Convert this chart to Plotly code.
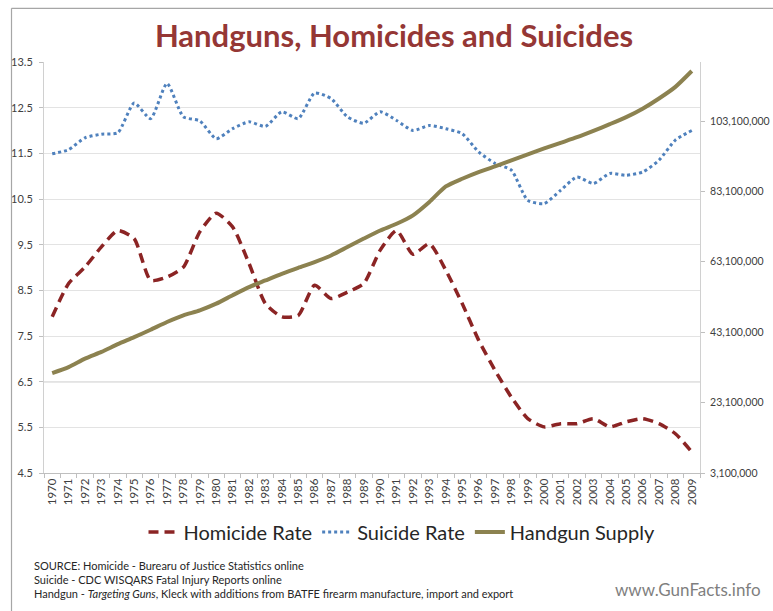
import plotly.graph_objects as go

years = [str(y) for y in range(1970, 2010)]

homicide_rate = [7.92, 8.65, 9.01, 9.45, 9.81, 9.63, 8.72, 8.79, 9.01, 9.78,
                 10.19, 9.89, 9.09, 8.21, 7.92, 7.95, 8.61, 8.32, 8.46, 8.65,
                 9.38, 9.81, 9.29, 9.52, 8.94, 8.21, 7.41, 6.75, 6.16, 5.69,
                 5.51, 5.58, 5.58, 5.69, 5.51, 5.62, 5.69, 5.58, 5.36, 4.96]

suicide_rate = [11.49, 11.58, 11.84, 11.92, 11.95, 12.6, 12.26, 13.03, 12.3, 12.21,
                11.82, 12.04, 12.19, 12.09, 12.41, 12.26, 12.82, 12.7, 12.3, 12.16,
                12.41, 12.22, 12.0, 12.11, 12.04, 11.93, 11.53, 11.28, 11.13, 10.47,
                10.4, 10.69, 10.98, 10.84, 11.06, 11.02, 11.09, 11.35, 11.79, 12.0]

handgun_supply_m = [31.5, 33.2, 35.6, 37.5, 39.7, 41.7, 43.8, 46.0, 47.9, 49.3,
                    51.2, 53.6, 55.9, 57.8, 59.7, 61.4, 63.0, 64.9, 67.3, 69.7,
                    72.0, 73.9, 76.3, 80.1, 84.5, 86.7, 88.6, 90.2, 91.9, 93.6,
                    95.3, 96.9, 98.5, 100.3, 102.2, 104.2, 106.6, 109.5, 112.8, 117.3]

left_ticks = [4.5, 5.5, 6.5, 7.5, 8.5, 9.5, 10.5, 11.5, 12.5, 13.5]
right_ticks = [3100000, 23100000, 43100000, 63100000, 83100000, 103100000]

title_text = "Handguns, Homicides and Suicides"
source_lines = [
    "SOURCE: Homicide - Burearu of Justice Statistics online",
    "Suicide - CDC WISQARS Fatal Injury Reports online",
    "Handgun - <i>Targeting Guns</i>, Kleck with additions from BATFE firearm manufacture, import and export",
]
site_text = "www.GunFacts.info"

W, H = 773, 611
L, R, T, B = 44, 73, 62, 138
PW, PH = W - L - R, H - T - B

def px_x(px):
    return (px - L) / PW

def px_y(py):
    return (H - B - py) / PH

FONT = "Lato"

fig = go.Figure()

fig.add_trace(go.Scatter(
    x=years, y=homicide_rate, name="Homicide Rate", mode="lines",
    line=dict(color="#8B2424", width=3.5, dash="10px,6px", shape="spline", smoothing=0.6),
))
fig.add_trace(go.Scatter(
    x=years, y=suicide_rate, name="Suicide Rate", mode="lines",
    line=dict(color="#4F81BD", width=3, dash="dot", shape="spline", smoothing=0.6),
))
fig.add_trace(go.Scatter(
    x=years, y=[v * 1e6 for v in handgun_supply_m], name="Handgun Supply", mode="lines",
    yaxis="y2",
    line=dict(color="#8C8250", width=4, shape="spline", smoothing=0.6),
))

annotations = []
for i, line in enumerate(source_lines):
    annotations.append(dict(
        text=line, xref="paper", yref="paper", x=px_x(32), y=px_y(565 + i * 14),
        xanchor="left", yanchor="middle", showarrow=False,
        font=dict(family=FONT, size=11, color="#262626"),
    ))
annotations.append(dict(
    text=site_text, xref="paper", yref="paper", x=px_x(763), y=px_y(589),
    xanchor="right", yanchor="middle", showarrow=False,
    font=dict(family=FONT, size=17, color="#7F7F7F"),
))

shapes = [
    dict(type="line", xref="paper", yref="paper", x0=px_x(11.5), x1=px_x(11.5),
         y0=px_y(8.3), y1=px_y(H + 2), line=dict(color="#A6A6A6", width=1.2)),
    dict(type="line", xref="paper", yref="paper", x0=px_x(11.5), x1=px_x(W + 2),
         y0=px_y(8.3), y1=px_y(8.3), line=dict(color="#A6A6A6", width=1.2)),
    dict(type="line", xref="paper", yref="y", x0=0, x1=1, y0=6.5, y1=6.5,
         line=dict(color="#D2D2D2", width=1.5), layer="below"),
]

fig.update_layout(
    width=W, height=H,
    margin=dict(l=L, r=R, t=T, b=B, autoexpand=False),
    paper_bgcolor="white", plot_bgcolor="white",
    title=dict(text=title_text, x=394 / W, xanchor="center",
               y=1 - 36 / H, yanchor="middle",
               font=dict(family=FONT, size=31, color="#953735", weight="bold")),
    xaxis=dict(
        type="category", tickangle=-90, tickson="boundaries",
        ticks="outside", ticklen=4, tickcolor="#BFBFBF",
        showline=True, linecolor="#BFBFBF", linewidth=1,
        showgrid=False, range=[-0.5, 39.5],
        tickfont=dict(family=FONT, size=11.5, color="#404040"),
    ),
    yaxis=dict(
        range=[4.5, 13.5], tickvals=left_ticks, tickformat=".1f",
        ticks="outside", ticklen=4, tickcolor="#BFBFBF", ticklabelstandoff=4,
        showline=True, linecolor="#D0D0D0", linewidth=1,
        gridcolor="#E3E3E3", gridwidth=1, zeroline=False,
        tickfont=dict(family=FONT, size=11, color="#404040"),
    ),
    yaxis2=dict(
        overlaying="y", side="right",
        range=[3100000, 119860000], tickvals=right_ticks, tickformat=",d",
        ticks="outside", ticklen=4, tickcolor="#BFBFBF", ticklabelstandoff=3,
        showline=True, linecolor="#D0D0D0", linewidth=1,
        showgrid=False, zeroline=False,
        tickfont=dict(family=FONT, size=10.5, color="#404040"),
    ),
    legend=dict(
        orientation="h", x=px_x(402), xanchor="center", y=px_y(532), yanchor="middle",
        font=dict(family=FONT, size=20, color="#262626"),
        bgcolor="rgba(0,0,0,0)",
    ),
    annotations=annotations,
    shapes=shapes,
)

fig.write_html(
    "out.html",
    config={"displayModeBar": False},
    post_script="document.body.style.margin='0';document.body.style.padding='0';"
                "document.body.style.overflow='hidden';",
)
